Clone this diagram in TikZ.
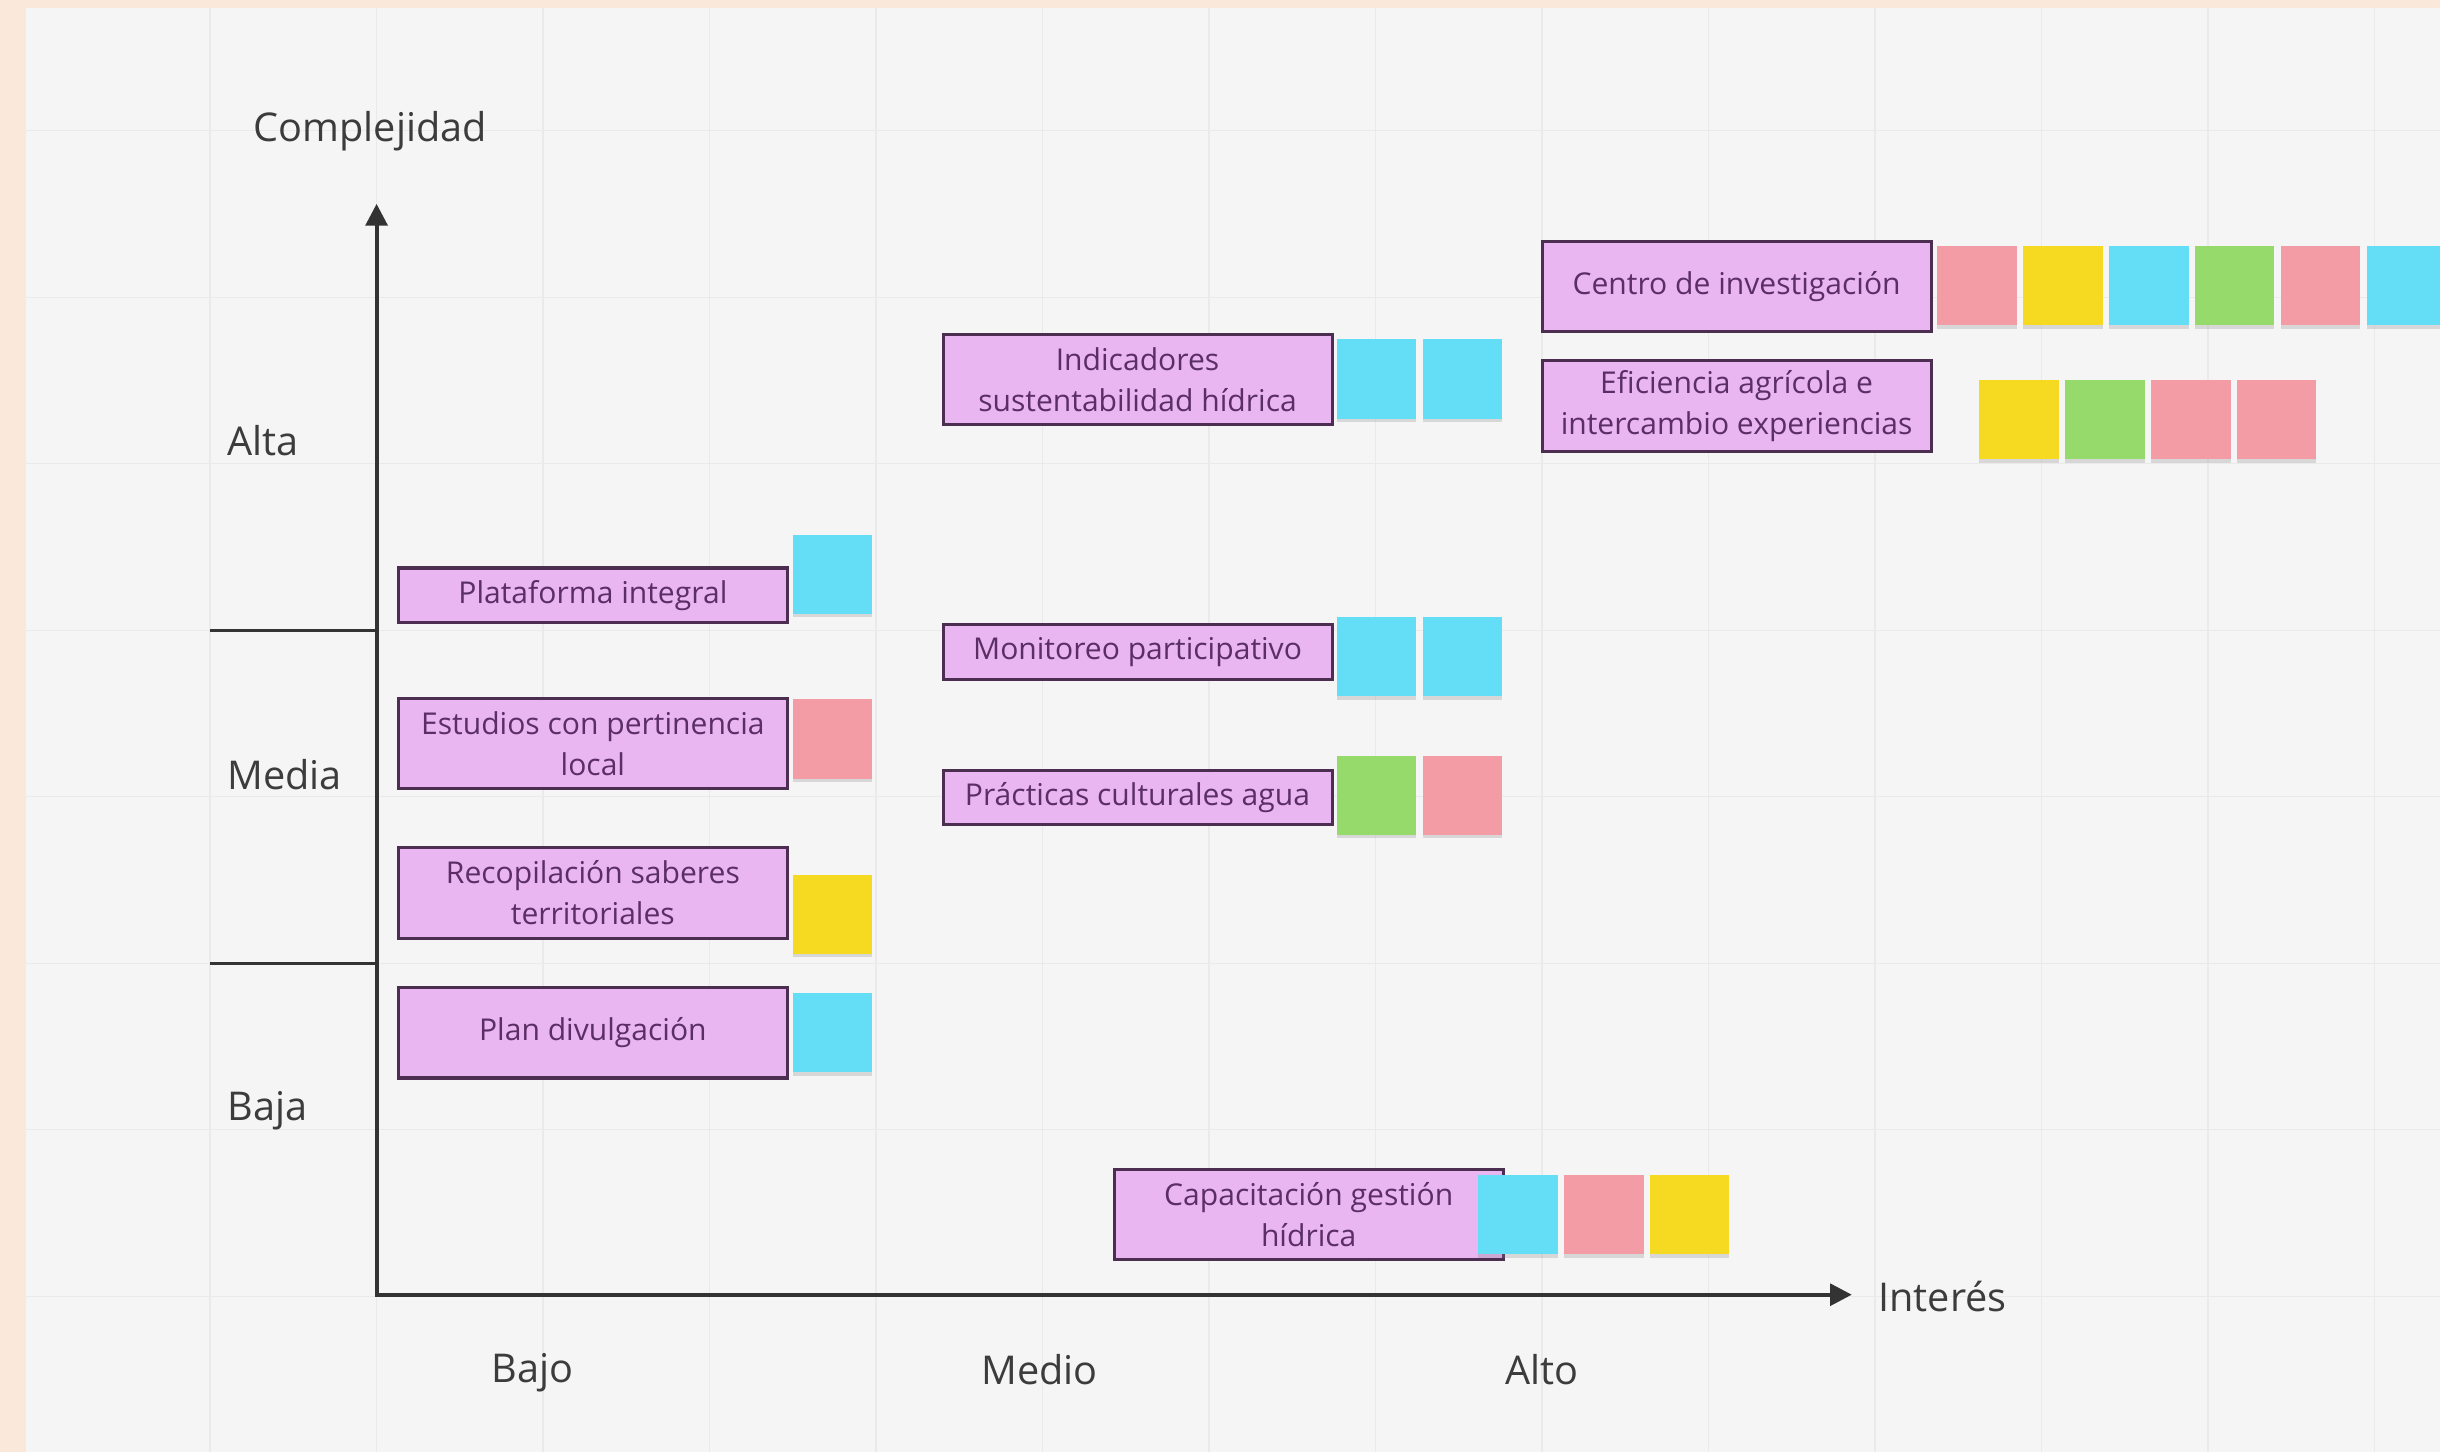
\documentclass[tikz,border=0pt]{standalone}
\usepackage{fontspec}
\setmainfont{Open Sans}
\usetikzlibrary{arrows.meta,positioning,shadows}

\definecolor{frame}{HTML}{FAE8DA}
\definecolor{canvas}{HTML}{F5F5F5}
\definecolor{gridc}{HTML}{EAEAEA}
\definecolor{boxfill}{HTML}{E9B6F2}
\definecolor{boxline}{HTML}{4B2E50}
\definecolor{boxtext}{HTML}{5B2F66}
\definecolor{labeltext}{HTML}{3C3C3C}
\definecolor{ncyan}{HTML}{64DDF7}
\definecolor{npink}{HTML}{F49CA5}
\definecolor{nyellow}{HTML}{F6DA22}
\definecolor{ngreen}{HTML}{97DA6C}

\begin{document}
\begin{tikzpicture}[x=0.02cm,y=-0.02cm,
            box/.style={rectangle,draw=boxline,line width=1.1pt,fill=boxfill,text=boxtext,
             font=\fontsize{11}{15}\selectfont,align=center,inner sep=2pt,
             minimum width=5cm,minimum height=0.7cm},
            tall box/.style={box,minimum height=1.16cm},
            note/.style={rectangle,inner sep=0pt,minimum size=1.02cm,
             drop shadow={shadow xshift=0pt,shadow yshift=-1.3pt,opacity=.25}},
            axis label/.style={text=labeltext,font=\fontsize{14.5}{17}\selectfont}]

            \useasboundingbox (0,0) rectangle (1568,933);
            \clip (0,0) rectangle (1568,933);

            % background and grid
            \fill[frame] (0,0) rectangle (1568,933);
            \fill[canvas] (17,5) rectangle (1568,933);
            \foreach \x in {135,242,...,1526}
              \draw[gridc,line width=0.5pt] (\x,5) -- (\x,933);
            \foreach \y in {84,191,...,833}
              \draw[gridc,line width=0.5pt] (17,\y) -- (1568,\y);

            % axes
            \coordinate (origin) at (242,832);
            \coordinate (ytip) at (242,131);
            \coordinate (xtip) at (1190,832);
            \coordinate (sepAl) at (135,405);
            \coordinate (sepAr) at (242,405);
            \coordinate (sepBl) at (135,619);
            \coordinate (sepBr) at (242,619);
            \draw[labeltext!85!black,line width=1.4pt,
                  {Triangle[length=0.28cm,width=0.28cm]}-{Triangle[length=0.28cm,width=0.28cm]}]
                  (ytip) -- (origin) -- (xtip);
            \draw[labeltext!85!black,line width=1pt] (sepAl) -- (sepAr);
            \draw[labeltext!85!black,line width=1pt] (sepBl) -- (sepBr);

            \node[axis label] (complejidad) at (238,84) {Complejidad};
            \node[axis label] (alta) at (169,283) {Alta};
            \node[axis label] (media) at (183,498) {Media};
            \node[axis label] (baja) at (172,714) {Baja};
            \node[axis label] (bajo) at (342,882) {Bajo};
            \node[axis label] (medio) at (668,880) {Medio};
            \node[axis label] (alto) at (991,880) {Alto};
            \node[axis label,anchor=west] (interes) at (1201,833) {Interés};

            % bajo
            \node[box] (plat) at (381,382.5) {Plataforma integral};
            \node[tall box] (estud) [below=0.94cm of plat] {Estudios con pertinencia\\local};
            \node[tall box] (recop) [below=0.72cm of estud] {Recopilación saberes\\territoriales};
            \node[tall box] (plan) [below=0.6cm of recop] {Plan divulgación};

            \node[note,fill=ncyan] (platA) at (535,369) {};
            \node[note,fill=npink] (estudA) at (535,475) {};
            \node[note,fill=nyellow] (recopA) at (535,587.5) {};
            \node[note,fill=ncyan] (planA) at (535,663.5) {};

            % medio
            \node[tall box] (indic) at (731,244) {Indicadores\\sustentabilidad hídrica};
            \node[box] (monit) at (731,419) {Monitoreo participativo};
            \node[box] (pract) at (731,512.5) {Prácticas culturales agua};
            \node[tall box] (capac) at (841,780.5) {Capacitación gestión\\hídrica};

            \node[note,fill=ncyan] (indicA) at (884.5,243.5) {};
            \node[note,fill=ncyan] (indicB) [right=0.07cm of indicA] {};
            \node[note,fill=ncyan] (monitA) at (884.5,422) {};
            \node[note,fill=ncyan] (monitB) [right=0.07cm of monitA] {};
            \node[note,fill=ngreen] (practA) at (884.5,511) {};
            \node[note,fill=npink] (practB) [right=0.07cm of practA] {};
            \node[note,fill=ncyan] (capacA) at (975.5,780.5) {};
            \node[note,fill=npink] (capacB) [right=0.07cm of capacA] {};
            \node[note,fill=nyellow] (capacC) [right=0.07cm of capacB] {};

            % alto
            \node[tall box] (centro) at (1116,184) {Centro de investigación};
            \node[tall box] (efic) [below=0.34cm of centro] {Eficiencia agrícola e\\intercambio experiencias};

            \node[note,fill=npink] (centroA) at (1270.5,183.5) {};
            \node[note,fill=nyellow] (centroB) [right=0.07cm of centroA] {};
            \node[note,fill=ncyan] (centroC) [right=0.07cm of centroB] {};
            \node[note,fill=ngreen] (centroD) [right=0.07cm of centroC] {};
            \node[note,fill=npink] (centroE) [right=0.07cm of centroD] {};
            \node[note,fill=ncyan] (centroF) [right=0.07cm of centroE] {};
            \node[note,fill=nyellow] (eficA) at (1297.5,269.5) {};
            \node[note,fill=ngreen] (eficB) [right=0.07cm of eficA] {};
            \node[note,fill=npink] (eficC) [right=0.07cm of eficB] {};
            \node[note,fill=npink] (eficD) [right=0.07cm of eficC] {};
\end{tikzpicture}
\end{document}
